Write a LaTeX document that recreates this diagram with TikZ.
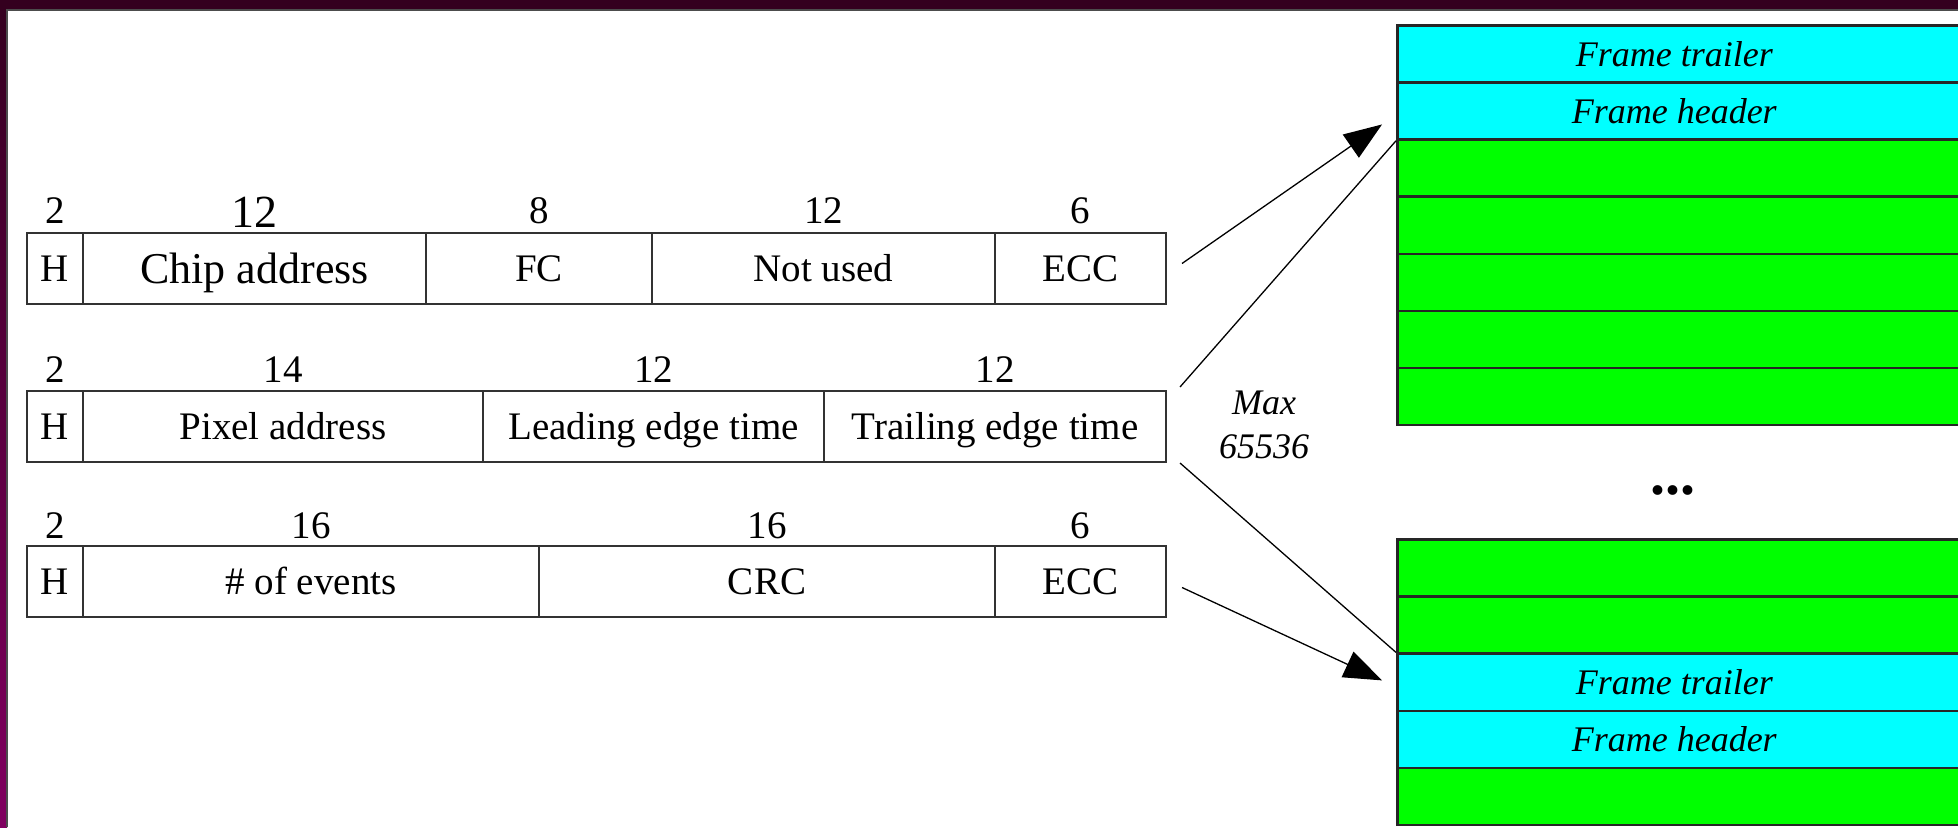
\documentclass[tikz,border=0pt]{standalone}
\usepackage{fontspec}
\setmainfont{Liberation Serif}
\usetikzlibrary{arrows.meta,calc}
\newcommand\fsz{\fontsize{39}{44}\selectfont}
\newcommand\fszi{\fontsize{36}{44}\selectfont\itshape}
\definecolor{bandtop}{RGB}{52,0,31}
\definecolor{bandbot}{RGB}{128,0,96}
\definecolor{cellline}{RGB}{50,50,50}
\definecolor{cyanfill}{RGB}{0,255,255}
\definecolor{greenfill}{RGB}{0,255,0}
\begin{document}
\begin{tikzpicture}[x=1pt,y=-1pt,
  cell/.style={draw=cellline, line width=2pt, minimum height=71pt, inner sep=0pt, anchor=north west, font=\fsz, text height=25.7pt, text depth=0pt},
  bigcell/.style={cell, font=\fontsize{44}{50}\selectfont, text height=29pt},
  num/.style={anchor=base, font=\fsz, inner sep=0pt},
  scell/.style={draw=black!85, line width=2.5pt, minimum width=580pt, minimum height=57.14pt, inner sep=0pt, anchor=north west},
  cyancell/.style={scell, fill=cyanfill},
  greencell/.style={scell, fill=greenfill},
  slabel/.style={label={[font=\fszi, xshift=-13pt]center:#1}},
  conn/.style={draw=black, line width=1.3pt},
  arrowconn/.style={conn, -{Triangle[length=38pt,width=28pt]}}
]
\useasboundingbox (0,0) rectangle (1958,827);
% background
\fill[white] (0,0) rectangle (1958,827);
\shade[top color=bandtop, bottom color=bandbot] (0,0) rectangle (7,827);
\fill[bandtop] (0,0) rectangle (1958,10);
\draw[gray!60!black, line width=1.2pt] (7,827) -- (7,10) -- (1958,10);

% Row 1
\node[cell, minimum width=56pt]  (r1h) at (26,232)  {H};
\node[bigcell, minimum width=343pt] (r1a) at (82,232)  {Chip address};
\node[cell, minimum width=226pt] (r1b) at (425,232) {FC};
\node[cell, minimum width=343pt] (r1c) at (651,232) {Not used};
\node[cell, minimum width=171pt] (r1d) at (994,232) {ECC};
\node[num] (n1h) at ($(r1h.north)+(0,-9)$) {2};
\node[num, font=\fontsize{46}{50}\selectfont] (n1a) at ($(r1a.north)+(0,-5)$) {12};
\node[num] (n1b) at ($(r1b.north)+(0,-9)$) {8};
\node[num] (n1c) at ($(r1c.north)+(0,-9)$) {12};
\node[num] (n1d) at ($(r1d.north)+(0,-9)$) {6};

% Row 2
\node[cell, minimum width=56pt]  (r2h) at (26,390)  {H};
\node[cell, minimum width=400pt] (r2a) at (82,390)  {Pixel address};
\node[cell, minimum width=341pt] (r2b) at (482,390) {Leading edge time};
\node[cell, minimum width=342pt] (r2c) at (823,390) {Trailing edge time};
\node[num] (n2h) at ($(r2h.north)+(0,-8)$) {2};
\node[num] (n2a) at ($(r2a.north)+(0,-8)$) {14};
\node[num] (n2b) at ($(r2b.north)+(0,-8)$) {12};
\node[num] (n2c) at ($(r2c.north)+(0,-8)$) {12};

% Row 3
\node[cell, minimum width=56pt]  (r3h) at (26,545)  {H};
\node[cell, minimum width=456pt] (r3a) at (82,545)  {\# of events};
\node[cell, minimum width=456pt] (r3b) at (538,545) {CRC};
\node[cell, minimum width=171pt] (r3c) at (994,545) {ECC};
\node[num] (n3h) at ($(r3h.north)+(0,-7)$) {2};
\node[num] (n3a) at ($(r3a.north)+(0,-7)$) {16};
\node[num] (n3b) at ($(r3b.north)+(0,-7)$) {16};
\node[num] (n3c) at ($(r3c.north)+(0,-7)$) {6};

% Top stack
\node[cyancell, slabel={Frame trailer}] (t1) at (1396,24) {};
\node[cyancell, slabel={Frame header}]  (t2) at (1396,81.14) {};
\node[greencell] (t3) at (1396,138.28) {};
\node[greencell] (t4) at (1396,195.42) {};
\node[greencell] (t5) at (1396,252.56) {};
\node[greencell] (t6) at (1396,309.70) {};
\node[greencell] (t7) at (1396,366.84) {};

% Bottom stack
\node[greencell] (b1) at (1396,538) {};
\node[greencell] (b2) at (1396,595.2) {};
\node[cyancell, slabel={Frame trailer}] (b3) at (1396,652.4) {};
\node[cyancell, slabel={Frame header}]  (b4) at (1396,709.6) {};
\node[greencell] (b5) at (1396,766.8) {};

% texts
\node[font=\fszi, align=center, inner sep=0pt] (max) at (1264,425) {Max\\65536};
\node[font=\fontsize{60}{60}\selectfont\bfseries, inner sep=0pt] (dots) at (1673,490) {...};

% connectors
\draw[arrowconn] ($(r1d.east)+(15,-5)$) -- ($(t2.west)+(-14,13.5)$);
\draw[conn] ($(r2c.north east)+(13,-3)$) -- (t2.south west);
\draw[conn] ($(r2c.south east)+(13,0)$) -- (b3.north west);
\draw[arrowconn] ($(r3c.east)+(15,6)$) -- ($(b3.north west)+(-14,28)$);
\end{tikzpicture}
\end{document}
